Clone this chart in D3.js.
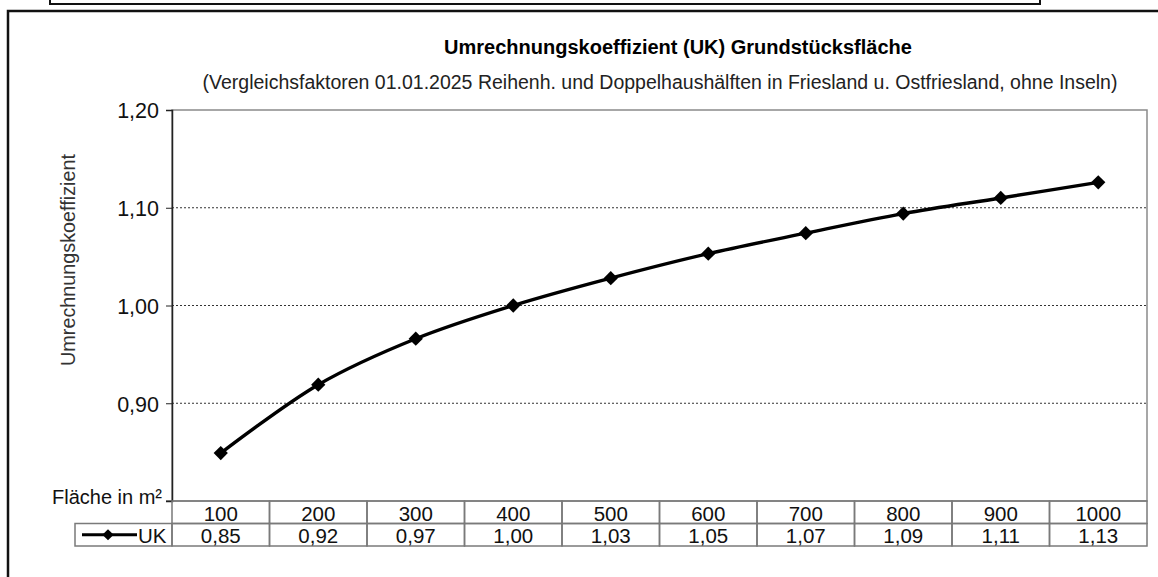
<!DOCTYPE html>
<html>
<head>
<meta charset="utf-8">
<script src="https://cdn.jsdelivr.net/npm/d3@7"></script>
<style>
  body { margin: 0; background: #fff; }
  svg { display: block; font-family: "Liberation Sans", Arial, sans-serif; }
</style>
</head>
<body>
<svg id="chart" width="1158" height="577"></svg>
<script>
"use strict";

// Data
const areas = [100, 200, 300, 400, 500, 600, 700, 800, 900, 1000];
const ukValues = [0.849, 0.919, 0.966, 1.0, 1.028, 1.053, 1.074, 1.094, 1.110, 1.126];
const yTicks = [0.8, 0.9, 1.0, 1.1, 1.2];

const title = "Umrechnungskoeffizient  (UK) Grundstücksfläche";
const subtitle = "(Vergleichsfaktoren 01.01.2025 Reihenh. und Doppelhaushälften in Friesland u.  Ostfriesland, ohne Inseln)";
const yLabel = "Umrechnungskoeffizient";
const xLabel = "Fläche in m²";
const seriesName = "UK";

const svg = d3.select("#chart");

// Plot geometry
const plot = {left: 172, right: 1147, top: 110, bottom: 501};
const rowH = 22.5;

const x = d3.scaleBand()
    .domain(areas)
    .range([plot.left, plot.right]);

const y = d3.scaleLinear()
    .domain([0.8, 1.2])
    .range([plot.bottom, plot.top]);

const fmt = v => d3.format(".2f")(v).replace(".", ",");

// Frames
svg.append("rect")
    .attr("x", 50).attr("y", -10)
    .attr("width", 990).attr("height", 14)
    .attr("fill", "none").attr("stroke", "#111").attr("stroke-width", 2);

svg.append("rect")
    .attr("x", 8).attr("y", 11)
    .attr("width", 1200).attr("height", 650)
    .attr("fill", "none").attr("stroke", "#111").attr("stroke-width", 2.5);

// Titles
svg.append("text")
    .attr("x", 678).attr("y", 54)
    .attr("text-anchor", "middle")
    .style("font-size", "20px").style("font-weight", "bold")
    .text(title);

svg.append("text")
    .attr("x", 660).attr("y", 89)
    .attr("text-anchor", "middle")
    .style("font-size", "19.5px").style("fill", "#222")
    .text(subtitle);

// Plot border
svg.append("rect")
    .attr("x", plot.left).attr("y", plot.top)
    .attr("width", plot.right - plot.left).attr("height", plot.bottom - plot.top)
    .attr("fill", "none").attr("stroke", "#8a8a8a").attr("stroke-width", 1.5);

// Gridlines
svg.append("g")
  .selectAll("line")
    .data(yTicks.filter(d => d > 0.8 && d < 1.2))
  .enter().append("line")
    .attr("x1", plot.left).attr("x2", plot.right)
    .attr("y1", d => y(d)).attr("y2", d => y(d))
    .attr("stroke", "#333").attr("stroke-width", 1)
    .attr("stroke-dasharray", "2,2");

// Y axis
const yAxis = svg.append("g")
    .attr("transform", "translate(" + plot.left + ",0)")
    .call(d3.axisLeft(y).tickValues(yTicks.filter(d => d > 0.8)).tickFormat(fmt).tickSize(6).tickPadding(7));

yAxis.select(".domain").attr("stroke", "#222").attr("stroke-width", 1.5);
yAxis.selectAll(".tick line").attr("stroke", "#222");
yAxis.selectAll(".tick text")
    .attr("dy", "0.36em")
    .style("font-size", "21.5px").style("fill", "#111")
    .style("font-family", "'Liberation Sans', Arial, sans-serif");

// small tick at the x axis level
svg.append("line")
    .attr("x1", plot.left - 6).attr("x2", plot.left)
    .attr("y1", plot.bottom).attr("y2", plot.bottom)
    .attr("stroke", "#222");

svg.append("text")
    .attr("transform", "translate(75,260) rotate(-90)")
    .attr("text-anchor", "middle")
    .style("font-size", "19.8px").style("fill", "#333")
    .text(yLabel);

svg.append("text")
    .attr("x", 162).attr("y", 504)
    .attr("text-anchor", "end")
    .style("font-size", "20px").style("fill", "#111")
    .text(xLabel);

// Data table
const table = svg.append("g");

table.append("rect")
    .attr("x", 75).attr("y", plot.bottom + rowH)
    .attr("width", plot.left - 75).attr("height", rowH)
    .attr("fill", "none").attr("stroke", "#7a7a7a").attr("stroke-width", 1.5);

const cells = table.selectAll(".cell")
    .data(areas.map((a, i) => ({area: a, value: ukValues[i]})))
  .enter().append("g")
    .attr("class", "cell");

cells.append("rect")
    .attr("x", d => x(d.area)).attr("y", plot.bottom)
    .attr("width", x.bandwidth()).attr("height", rowH)
    .attr("fill", "none").attr("stroke", "#7a7a7a").attr("stroke-width", 1.5);

cells.append("rect")
    .attr("x", d => x(d.area)).attr("y", plot.bottom + rowH)
    .attr("width", x.bandwidth()).attr("height", rowH)
    .attr("fill", "none").attr("stroke", "#7a7a7a").attr("stroke-width", 1.5);

cells.append("text")
    .attr("x", d => x(d.area) + x.bandwidth() / 2)
    .attr("y", plot.bottom + 19.5)
    .attr("text-anchor", "middle")
    .style("font-size", "20.5px").style("fill", "#111")
    .text(d => d.area);

cells.append("text")
    .attr("x", d => x(d.area) + x.bandwidth() / 2)
    .attr("y", plot.bottom + rowH + 19.5)
    .attr("text-anchor", "middle")
    .style("font-size", "20.5px").style("fill", "#111")
    .text(d => fmt(d.value));

// Legend key in table
const ky = plot.bottom + rowH * 1.5;
table.append("line")
    .attr("x1", 82).attr("x2", 137)
    .attr("y1", ky).attr("y2", ky)
    .attr("stroke", "#000").attr("stroke-width", 3);
table.append("path")
    .attr("transform", "translate(108," + ky + ")")
    .attr("d", d3.symbol().type(d3.symbolDiamond2).size(80)());
table.append("text")
    .attr("x", 138).attr("y", plot.bottom + rowH + 19.5)
    .style("font-size", "20.5px").style("fill", "#111")
    .text(seriesName);

// Line
const cx = d => x(d) + x.bandwidth() / 2;

const line = d3.line()
    .x((d, i) => cx(areas[i]))
    .y(d => y(d))
    .curve(d3.curveCatmullRom.alpha(0.5));

svg.append("path")
    .datum(ukValues)
    .attr("d", line)
    .attr("fill", "none")
    .attr("stroke", "#000")
    .attr("stroke-width", 3.4);

svg.append("g")
  .selectAll("path")
    .data(ukValues)
  .enter().append("path")
    .attr("transform", (d, i) => "translate(" + cx(areas[i]) + "," + y(d) + ")")
    .attr("d", d3.symbol().type(d3.symbolDiamond2).size(130)());
</script>
</body>
</html>
